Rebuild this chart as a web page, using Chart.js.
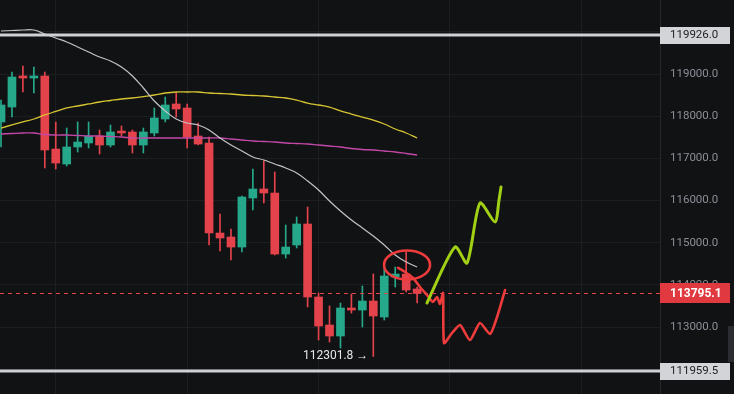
<!DOCTYPE html>
<html><head><meta charset="utf-8">
<script src="https://cdn.jsdelivr.net/npm/chart.js@4.4.0/dist/chart.umd.min.js"></script>
<style>html,body{margin:0;padding:0;background:#111214;}#wrap{width:734px;height:394px;}</style>
</head><body><div id="wrap"><canvas id="c" width="734" height="394"></canvas></div>
<script>
// Candles (index 0..38)
const opens  = [117862,118217,118953,118905,118953,117221,116866,117269,117364,117530,117316,117648,117625,117316,117601,117933,118289,118194,117530,117364,115229,115135,114897,116059,116273,116178,114731,114945,115443,113712,113048,112787,113451,113403,113617,113237,114186,114257,113902];
const highs  = [118383,119047,119190,119166,119047,117862,117719,117862,117862,117672,117791,117767,117672,117719,118194,118455,118549,118289,117838,117506,115680,115324,116107,116747,116937,116676,115419,115609,115846,113807,113498,113569,113783,113973,114257,114400,114423,114779,113949];
const lows   = [117269,117980,118573,118549,116771,116747,116818,117150,117245,117103,117269,117530,117127,117127,117530,117862,117980,117245,117316,114945,114803,114589,114779,115775,115941,114708,114637,114874,113475,112692,112645,112502,113332,113000,112301.8,113166,113949,113830,113570];
const closes = [118265,118929,118905,118953,117198,116889,117269,117387,117530,117316,117625,117601,117316,117625,117957,118265,118170,117506,117340,115229,115111,114897,116083,116273,116178,114731,114897,115443,113712,113024,112787,113451,113403,113617,113261,114210,114257,113878,113795.1];

// Moving averages
const maFast = [120020,120032,120043,120043,119949,119854,119759,119640,119522,119403,119308,119166,118953,118668,118360,118123,117933,117838,117791,117672,117482,117316,117174,117032,116961,116866,116771,116652,116463,116249,115988,115751,115538,115348,115158,114945,114708,114542,114423];
const maMid  = [117719,117791,117862,117933,118028,118111,118194,118241,118289,118336,118372,118407,118431,118466,118502,118549,118573,118573,118573,118549,118538,118526,118502,118490,118478,118455,118431,118383,118312,118265,118217,118123,118051,117980,117909,117814,117696,117601,117482];
const maSlow = [117577,117589,117601,117601,117565,117553,117553,117542,117530,117530,117518,117506,117482,117482,117482,117482,117482,117482,117482,117482,117482,117459,117435,117411,117399,117387,117364,117352,117340,117316,117293,117269,117233,117210,117198,117174,117150,117115,117079];

// Horizontal levels
const levelValues = [119926.0, 111959.5];

// Hand-drawn scenarios (bar index, price)
const upPathX = [38.9, 41.46, 42.56, 43.74, 45.11, 45.48, 45.66];
const upPathY = [113570, 114897, 114518, 115941, 115490, 116012, 116320];
const downPathX = [36.26, 36.9, 37.63, 38.26, 38.9, 39.45, 39.82, 40.09, 40.37, 40.46, 41.19, 41.92, 42.83, 43.74, 44.66, 45.3, 46.03];
const downPathY = [114400, 114305, 114162, 113949, 113759, 113593, 113712, 113546, 113807, 112621, 112858, 113048, 112692, 113095, 112834, 113237, 113878];

// Circle annotation: centre (index, price) and radii (index, price)
const circleCenter = [37.08, 114471];
const circleRadius = [2.1, 345];

const GREEN = '#26a98b', RED = '#e4434b';
const colors = opens.map((o, i) => closes[i] >= o ? GREEN : RED);
const lastClose = closes[closes.length - 1];
const lowestLow = Math.min(...lows);
const lowestIdx = lows.indexOf(lowestLow);
const FONT = 'Roboto, "Liberation Sans", sans-serif';

const overlay = {
  id: 'overlay',
  beforeDraw(chart) {
    const ctx = chart.ctx;
    ctx.save();
    ctx.fillStyle = '#111214';
    ctx.fillRect(0, 0, chart.width, chart.height);
    ctx.restore();
  },
  afterDatasetsDraw(chart) {
    const ctx = chart.ctx, xs = chart.scales.x, ys = chart.scales.y, a = chart.chartArea;
    ctx.save();
    levelValues.forEach(v => {
      const y = Math.round(ys.getPixelForValue(v));
      ctx.fillStyle = '#cfd0d3';
      ctx.fillRect(a.left, y - 1.5, a.right - a.left, 3);
    });
    const py = Math.round(ys.getPixelForValue(lastClose)) + 0.5;
    ctx.strokeStyle = RED; ctx.lineWidth = 1; ctx.setLineDash([4, 4]);
    ctx.beginPath(); ctx.moveTo(a.left, py); ctx.lineTo(a.right + 6, py); ctx.stroke();
    ctx.setLineDash([]);
    const cx = xs.getPixelForValue(circleCenter[0]);
    const cy = ys.getPixelForValue(circleCenter[1]);
    const rx = xs.getPixelForValue(circleCenter[0] + circleRadius[0]) - cx;
    const ry = cy - ys.getPixelForValue(circleCenter[1] + circleRadius[1]);
    ctx.strokeStyle = '#ee3b3b'; ctx.lineWidth = 2.6;
    ctx.beginPath(); ctx.ellipse(cx, cy, rx, ry, 0, 0, Math.PI * 2); ctx.stroke();
    const lx = xs.getPixelForValue(lowestIdx) - 5;
    const ly = ys.getPixelForValue(lowestLow);
    ctx.fillStyle = '#e8e8ea'; ctx.font = '12px ' + FONT;
    ctx.textAlign = 'right'; ctx.textBaseline = 'middle';
    ctx.fillText(lowestLow.toFixed(1) + ' \u2192', lx, ly);
    ctx.restore();
  },
  afterDraw(chart) {
    const ctx = chart.ctx, ys = chart.scales.y, a = chart.chartArea;
    ctx.save();
    ctx.textAlign = 'left'; ctx.textBaseline = 'middle';
    levelValues.forEach(v => {
      const y = ys.getPixelForValue(v);
      ctx.fillStyle = '#d3d4d8';
      ctx.fillRect(a.right, Math.round(y) - 8, 70, 17);
      ctx.fillStyle = '#202226'; ctx.font = '11.5px ' + FONT;
      ctx.fillText(v.toFixed(1), a.right + 10, y + 0.5);
    });
    const y = ys.getPixelForValue(lastClose);
    ctx.fillStyle = '#e0393f';
    ctx.fillRect(a.right, Math.round(y) - 10, 70, 20);
    ctx.fillStyle = '#ffffff'; ctx.font = 'bold 12px ' + FONT;
    ctx.fillText(lastClose.toFixed(1), a.right + 10, y + 0.5);
    ctx.fillStyle = '#2a2c32';
    ctx.fillRect(chart.width - 6, 326, 6, 36);
    ctx.restore();
  }
};

new Chart(document.getElementById('c'), {
  type: 'bar',
  data: {
    datasets: [
      { type: 'line', data: upPathX.map((x, i) => ({ x, y: upPathY[i] })), borderColor: '#a2d014', borderWidth: 3, pointRadius: 0, tension: 0.25, order: 1, borderCapStyle: 'round', borderJoinStyle: 'round' },
      { type: 'line', data: downPathX.map((x, i) => ({ x, y: downPathY[i] })), borderColor: '#ee3b3b', borderWidth: 2.6, pointRadius: 0, tension: 0.2, order: 1, borderCapStyle: 'round', borderJoinStyle: 'round' },
      { type: 'line', data: maFast.map((v, i) => ({ x: i, y: v })), borderColor: '#c4c4c8', borderWidth: 1.2, pointRadius: 0, tension: 0.4, order: 2 },
      { type: 'line', data: maMid.map((v, i) => ({ x: i, y: v })), borderColor: '#d8c532', borderWidth: 1.3, pointRadius: 0, tension: 0.4, order: 2 },
      { type: 'line', data: maSlow.map((v, i) => ({ x: i, y: v })), borderColor: '#c248a8', borderWidth: 1.3, pointRadius: 0, tension: 0.4, order: 2 },
      { type: 'bar', data: lows.map((l, i) => ({ x: i, y: [l, highs[i]] })), backgroundColor: colors, barThickness: 1, grouped: false, order: 4 },
      { type: 'bar', data: opens.map((o, i) => ({ x: i, y: [o, closes[i]] })), backgroundColor: colors, barThickness: 8, grouped: false, order: 3 }
    ]
  },
  options: {
    responsive: false, animation: false, devicePixelRatio: 1,
    layout: { padding: 0 },
    plugins: { legend: { display: false }, tooltip: { enabled: false } },
    scales: {
      x: {
        type: 'linear', min: -0.0913, max: 60.18, offset: false,
        afterBuildTicks(s) { const t = []; for (let v = 5; v < s.max; v += 12) t.push({ value: v }); s.ticks = t; },
        afterFit(s) { s.height = 0; s.paddingLeft = 0; s.paddingRight = 0; },
        ticks: { display: false },
        grid: { color: '#1d1e22', drawTicks: false, offset: false },
        border: { display: false }
      },
      y: {
        position: 'right', min: 111411.7, max: 120754.8,
        afterFit(s) { s.width = 74; s.paddingTop = 0; s.paddingBottom = 0; },
        afterBuildTicks(s) { const t = []; for (let v = Math.ceil(s.min / 1000) * 1000; v <= s.max; v += 1000) t.push({ value: v }); s.ticks = t; },
        ticks: { color: '#8b8e97', font: { family: FONT, size: 11.5 }, padding: 10, callback: v => Number(v).toFixed(1) },
        grid: { color: '#1d1e22', drawTicks: false },
        border: { color: '#26272c' }
      }
    }
  },
  plugins: [overlay]
});
</script></body></html>
